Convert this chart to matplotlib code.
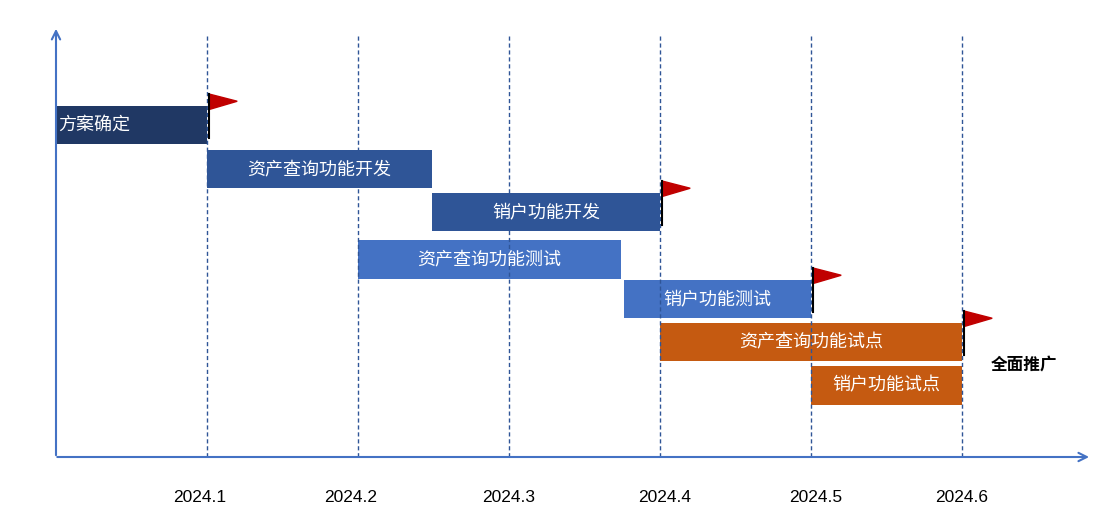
import matplotlib
matplotlib.use("Agg")
import matplotlib.pyplot as plt
from matplotlib.patches import Polygon

plt.rcParams['font.family'] = ['Noto Sans CJK SC', 'DejaVu Sans']

tasks = ["方案确定", "资产查询功能开发", "销户功能开发", "资产查询功能测试", "销户功能测试", "资产查询功能试点", "销户功能试点"]
starts = [0.0, 1.0, 2.49, 2.0, 3.76, 4.0, 5.0]
ends = [1.0, 2.49, 4.0, 3.74, 5.0, 6.0, 6.0]
rows = [125, 169, 212, 259.5, 299, 342, 385.5]
colors = ["#203864", "#2F5597", "#2F5597", "#4472C4", "#4472C4", "#C55A11", "#C55A11"]
months = [1, 2, 3, 4, 5, 6]
month_labels = ["2024.1", "2024.2", "2024.3", "2024.4", "2024.5", "2024.6"]
flags = [(1, 0), (4, 2), (5, 4), (6, 5)]
final_label = "全面推广"

fig = plt.figure(figsize=(11.02, 5.2), dpi=100)
ax = fig.add_axes([0, 0, 1, 1])
ax.set_xlim(-56/151, (1102-56)/151)
ax.set_ylim(520, 0)
ax.axis('off')

axc = "#4472C4"
for m in months:
    ax.plot([m, m], [36, 457], ls=(0, (3, 2)), color="#2F5597", lw=1)
    ax.text(m - 0.05 if m < 3 else (m + 0.03 if m in (4, 5) else m), 497, month_labels[months.index(m)],
            ha='center', va='center', fontsize=12.5, color='black', family=['Arial', 'Liberation Sans', 'DejaVu Sans'])

ax.annotate("", xy=(0, 26), xytext=(0, 458), arrowprops=dict(arrowstyle="->", color=axc, lw=1.5, mutation_scale=15))
ax.annotate("", xy=(6.86, 457), xytext=(-0.01, 457), arrowprops=dict(arrowstyle="->", color=axc, lw=1.5, mutation_scale=15))

h = 38.5
for t, s, e, r, c in zip(tasks, starts, ends, rows, colors):
    ax.barh(r, e - s, left=s, height=h, color=c, edgecolor='none')
    ax.text((s + e) / 2 - (0.25 if t == "方案确定" else 0), r, t, ha='center', va='center', color='white', fontsize=13)

for m, ri in flags:
    bottom = rows[ri] + h / 2 - 6
    top = bottom - 44
    ax.plot([m + 0.01, m + 0.01], [top, bottom], color='black', lw=1.5)
    ax.add_patch(Polygon([(m + 0.02, top), (m + 0.2, top + 7), (m + 0.02, top + 15)], closed=True, color='#C00000'))

ax.text(6.19, 365, final_label, ha='left', va='center', fontsize=12, fontweight='bold', color='black')

fig.savefig("out.png", dpi=100)
